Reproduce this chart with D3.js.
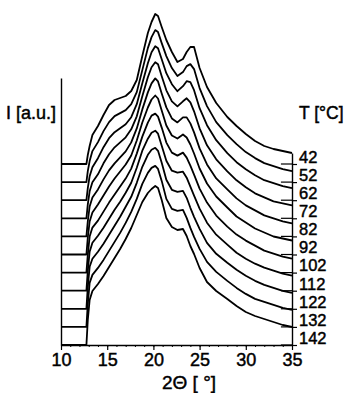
<!DOCTYPE html>
<html>
<head>
<meta charset="utf-8">
<script src="https://cdn.jsdelivr.net/npm/d3@7"></script>
<style>
  body { margin: 0; background: #fff; }
  svg { display: block; font-family: "Liberation Sans", Arial, sans-serif; }
  text { fill: #000; stroke: #000; stroke-width: 0.45px; }
</style>
</head>
<body>
<svg id="chart" width="347" height="393"></svg>
<script>
// 2-theta grid (degrees)
const twoTheta = [10, 12.75, 12.9, 13.1, 13.4, 14.0, 14.6, 15.2, 15.8, 16.4, 17.0, 17.6, 18.2, 18.8, 19.4, 19.8, 20.2, 20.5, 20.9, 21.4, 22.0, 22.6, 23.2, 23.6, 24.0, 24.4, 25.0, 25.8, 26.8, 28.0, 29.0, 30.0, 31.0, 32.0, 33.0, 34.0, 35.0]

// temperatures, top to bottom
const temps = [42, 52, 62, 72, 82, 92, 102, 112, 122, 132, 142]

// intensity above each curve's own baseline (a.u.)
const i42  = [0, 0, 9, 18, 29, 38, 49, 59, 64, 66, 68, 73, 84, 108, 131, 142, 150, 148, 137, 124, 112, 102, 105, 112, 117, 117, 96, 77, 61, 47, 38, 30, 23, 18, 15, 13, 11]
const i52  = [0, 0, 11, 21, 31, 40, 51, 60, 66, 69, 72, 78, 90, 112, 134, 145, 152, 150, 139, 126, 114, 106, 110, 116, 118, 113, 94, 76, 60, 47, 38, 30, 24, 19, 16, 13, 11]
const i62  = [0, 0, 12, 24, 33, 42, 53, 62, 68, 72, 76, 83, 96, 117, 137, 148, 154, 152, 141, 127, 116, 109, 114, 119, 118, 110, 92, 75, 60, 47, 38, 31, 25, 20, 17, 14, 12]
const i72  = [0, 0, 14, 27, 36, 44, 55, 64, 71, 76, 81, 89, 102, 122, 141, 151, 156, 154, 142, 128, 117, 112, 117, 120, 116, 107, 90, 73, 59, 47, 38, 31, 25, 21, 17, 15, 13]
const i82  = [0, 0, 15, 30, 39, 47, 57, 66, 73, 79, 85, 94, 108, 127, 144, 153, 158, 155, 143, 129, 118, 114, 119, 119, 113, 104, 88, 72, 58, 47, 38, 31, 26, 21, 18, 15, 13]
const i92  = [0, 0, 17, 33, 42, 50, 59, 68, 76, 83, 90, 99, 114, 132, 147, 155, 159, 156, 144, 129, 119, 116, 120, 117, 110, 101, 86, 71, 58, 47, 38, 32, 26, 22, 18, 16, 14]
const i102 = [0, 0, 18, 36, 45, 52, 61, 70, 78, 86, 94, 104, 119, 136, 150, 157, 159, 156, 145, 130, 120, 117, 120, 115, 107, 98, 84, 70, 57, 46, 38, 32, 27, 22, 19, 16, 14]
const i112 = [0, 0, 20, 39, 48, 55, 63, 72, 81, 89, 98, 108, 123, 140, 152, 158, 160, 157, 145, 130, 120, 118, 119, 113, 104, 95, 82, 68, 56, 46, 38, 32, 27, 23, 20, 17, 15]
const i122 = [0, 0, 22, 42, 50, 57, 65, 74, 83, 92, 102, 112, 126, 142, 154, 159, 161, 158, 146, 129, 119, 117, 118, 111, 101, 92, 80, 66, 55, 46, 39, 33, 28, 24, 21, 18, 16]
const i132 = [0, 0, 23, 44, 52, 59, 67, 76, 85, 94, 104, 115, 128, 143, 154, 159, 161, 158, 146, 128, 118, 116, 117, 109, 99, 90, 78, 65, 55, 46, 39, 33, 28, 25, 22, 19, 17]
const i142 = [0, 0, 25, 45, 54, 61, 69, 78, 87, 96, 106, 117, 130, 143, 152, 156, 159, 157, 145, 127, 118, 115, 116, 109, 99, 91, 77, 63, 54, 46, 39, 33, 29, 26, 23, 20, 18]

const series = [i42, i52, i62, i72, i82, i92, i102, i112, i122, i132, i142]
const xTicks = [10, 15, 20, 25, 30, 35]
const step = 18.1 // vertical offset between curves (a.u.)

const svg = d3.select('#chart')
const x = d3.scaleLinear().domain([10, 35]).range([61, 292])
const y = d3.scaleLinear().domain([0, 267]).range([345, 78])

const offsetOf = (k) => (temps.length - 1 - k) * step

// curves
const line = d3.line().x((d) => x(d[0])).y((d) => y(d[1]))
svg.append('g')
  .attr('fill', 'none')
  .attr('stroke', '#000')
  .attr('stroke-width', 1.8)
  .attr('stroke-linejoin', 'round')
  .selectAll('path')
  .data(series)
  .join('path')
  .attr('d', (s, k) => line(s.map((v, j) => [twoTheta[j], v + offsetOf(k)])))

// short baseline marks at the right end
svg.append('g')
  .attr('stroke', '#000')
  .attr('stroke-width', 1.2)
  .selectAll('line')
  .data(temps)
  .join('line')
  .attr('x1', x(33.8)).attr('x2', x(35))
  .attr('y1', (d, k) => y(offsetOf(k))).attr('y2', (d, k) => y(offsetOf(k)))

// left axis (no ticks)
svg.append('g')
  .attr('transform', `translate(${x(10)},0)`)
  .call(d3.axisLeft(y).tickValues([]).tickSizeOuter(0))
  .call((g) => g.select('.domain').attr('stroke-width', 1.4))

// right axis with temperature labels
const yRight = d3.scaleLinear().domain([0, offsetOf(0) + 11]).range([y(0), y(offsetOf(0) + 11)])
svg.append('g')
  .attr('transform', `translate(${x(35)},0)`)
  .call(d3.axisRight(yRight)
    .tickValues(temps.map((t, k) => offsetOf(k)))
    .tickFormat((d, k) => temps[k])
    .tickSize(5).tickPadding(2).tickSizeOuter(0))
  .call((g) => g.select('.domain').attr('stroke-width', 1.4))
  .call((g) => g.selectAll('.tick line').attr('stroke-width', 1.2))
  .call((g) => g.selectAll('text')
    .attr('dy', '-0.1em')
    .attr('font-size', 16.5)
    .attr('font-family', '"Liberation Sans", Arial, sans-serif'))

// bottom axis
svg.append('g')
  .attr('transform', `translate(0,${y(0)})`)
  .call(d3.axisBottom(x).ticks(25).tickSize(2).tickFormat('').tickSizeOuter(0))
  .call((g) => g.select('.domain').attr('stroke-width', 1.4))
svg.append('g')
  .attr('transform', `translate(0,${y(0)})`)
  .call(d3.axisBottom(x).tickValues(xTicks).tickSize(5).tickPadding(3).tickSizeOuter(0))
  .call((g) => g.select('.domain').remove())
  .call((g) => g.selectAll('.tick line').attr('stroke-width', 1.2))
  .call((g) => g.selectAll('text')
    .attr('font-size', 18)
    .attr('font-family', '"Liberation Sans", Arial, sans-serif'))

// axis titles
svg.append('text')
  .attr('x', 6).attr('y', 119)
  .attr('font-size', 18)
  .text('I [a.u.]')
svg.append('text')
  .attr('x', 299).attr('y', 119)
  .attr('font-size', 17.5)
  .text('T [°C]')
svg.append('text')
  .attr('x', 189).attr('y', 389)
  .attr('text-anchor', 'middle')
  .attr('font-size', 19)
  .text('2Θ [ °]')
</script>
</body>
</html>
